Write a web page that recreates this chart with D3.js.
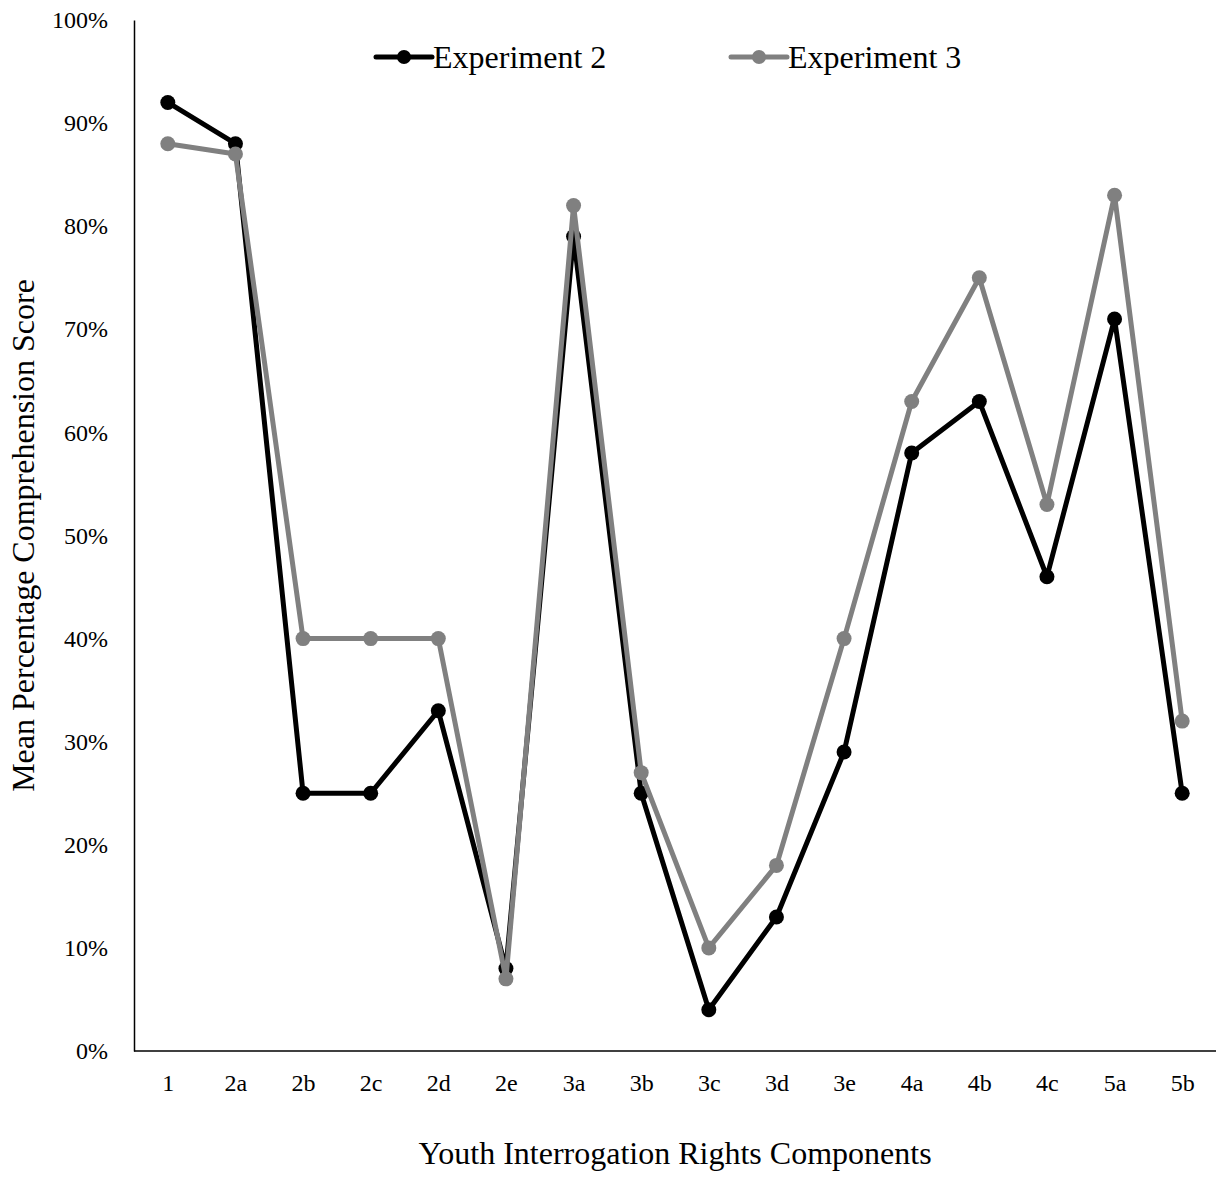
<!DOCTYPE html>
<html><head><meta charset="utf-8">
<script src="https://cdn.jsdelivr.net/npm/d3@7"></script>
<style>body{margin:0;background:#fff}text{font-family:"Liberation Serif","Times New Roman",serif;fill:#000}</style>
</head><body><svg id="c" width="1221" height="1201"></svg>
<script>
const categories = ["1","2a","2b","2c","2d","2e","3a","3b","3c","3d","3e","4a","4b","4c","5a","5b"];
const experiment2 = [92,88,25,25,33,8,79,25,4,13,29,58,63,46,71,25];
const experiment3 = [88,87,40,40,40,7,82,27,10,18,40,63,75,53,83,32];
const yTicks = [0,10,20,30,40,50,60,70,80,90,100];
const seriesNames = ["Experiment 2","Experiment 3"];
const seriesColors = ["#000000","#808080"];

(function(){
const svg = d3.select("#c");
const mL = 134, mR = 1216, mT = 20, mB = 1051;
const x = d3.scalePoint().domain(categories).range([mL, mR]).padding(0.5);
const y = d3.scaleLinear().domain([0,100]).range([mB, mT]);

const yAxis = svg.append("g").attr("transform",`translate(${mL},0)`)
  .call(d3.axisLeft(y).tickValues(yTicks).tickSize(0).tickPadding(26).tickFormat(d=>d+"%"));
yAxis.select(".domain").attr("stroke","#000").attr("stroke-width",1.5);
yAxis.selectAll("text").attr("font-size",24).attr("font-family","Liberation Serif");

const xAxis = svg.append("g").attr("transform",`translate(0,${mB})`)
  .call(d3.axisBottom(x).tickSize(0).tickPadding(23));
xAxis.select(".domain").attr("stroke","#000").attr("stroke-width",1.5).attr("d",`M${mL},0H${mR}`);
xAxis.selectAll("text").attr("font-size",24).attr("font-family","Liberation Serif");

const data = [experiment2, experiment3];
const line = d3.line().x((d,i)=>x(categories[i])).y(d=>y(d));
data.forEach((vals,si)=>{
  svg.append("path").datum(vals).attr("d",line).attr("fill","none")
    .attr("stroke",seriesColors[si]).attr("stroke-width",5).attr("stroke-linejoin","round");
  svg.append("g").selectAll("circle").data(vals).join("circle")
    .attr("cx",(d,i)=>x(categories[i])).attr("cy",d=>y(d)).attr("r",7.5)
    .attr("fill",seriesColors[si]);
});

const legendPos = [376, 731];
seriesNames.forEach((n,i)=>{
  const g = svg.append("g").attr("transform",`translate(${legendPos[i]},57)`);
  g.append("line").attr("x1",0).attr("x2",56).attr("y1",0).attr("y2",0)
    .attr("stroke",seriesColors[i]).attr("stroke-width",5).attr("stroke-linecap","round");
  g.append("circle").attr("cx",28).attr("cy",0).attr("r",7).attr("fill",seriesColors[i]);
  g.append("text").attr("x",57).attr("y",11).attr("font-size",32).text(n);
});

svg.append("text").attr("transform",`translate(34,${(mT+mB)/2}) rotate(-90)`)
  .attr("text-anchor","middle").attr("font-size",32).text("Mean Percentage Comprehension Score");
svg.append("text").attr("x",(mL+mR)/2).attr("y",1164).attr("text-anchor","middle")
  .attr("font-size",32).text("Youth Interrogation Rights Components");
})();
</script></body></html>
